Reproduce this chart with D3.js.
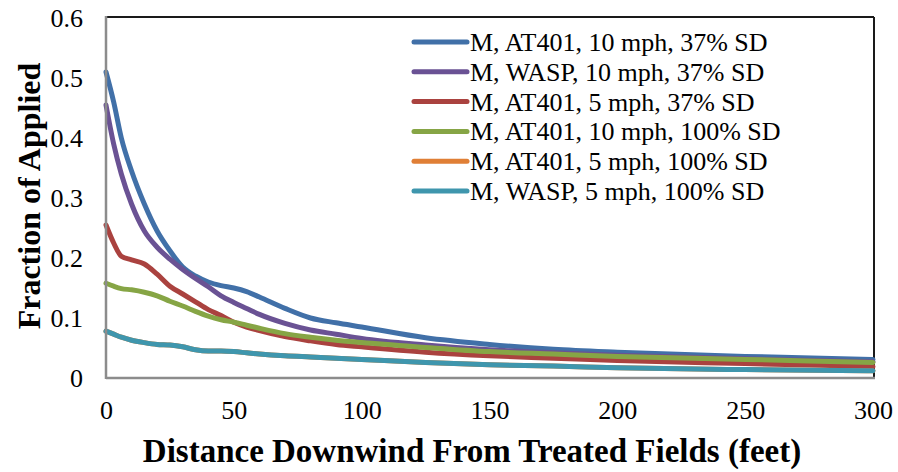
<!DOCTYPE html>
<html>
<head>
<meta charset="utf-8">
<script src="https://cdn.jsdelivr.net/npm/d3@7/dist/d3.min.js"></script>
<style>
  html, body { margin: 0; padding: 0; background: #ffffff; }
  svg { display: block; }
  text { font-family: "Liberation Serif", "Times New Roman", serif; fill: #000; }
</style>
</head>
<body>
<svg id="chart" width="898" height="472"></svg>
<script>
// Downwind distance (feet) at which each series is sampled
const distances = [0, 3, 6, 10, 15, 20, 25, 30, 35, 40, 45, 50, 55, 60, 70, 80, 90, 100, 125, 150, 175, 200, 250, 300];

const seriesNames = [
  "M, AT401, 10 mph, 37% SD",
  "M, WASP, 10 mph, 37% SD",
  "M, AT401, 5 mph, 37% SD",
  "M, AT401, 10 mph, 100% SD",
  "M, AT401, 5 mph, 100% SD",
  "M, WASP, 5 mph, 100% SD"
];

const at401_10_37 = [0.51, 0.46, 0.40, 0.345, 0.29, 0.245, 0.212, 0.185, 0.170, 0.160, 0.154, 0.150, 0.144, 0.135, 0.116, 0.100, 0.092, 0.085, 0.067, 0.056, 0.048, 0.043, 0.036, 0.031];
const wasp_10_37  = [0.455, 0.39, 0.34, 0.29, 0.245, 0.218, 0.198, 0.181, 0.166, 0.152, 0.137, 0.126, 0.116, 0.106, 0.091, 0.080, 0.073, 0.066, 0.055, 0.047, 0.042, 0.038, 0.032, 0.027];
const at401_5_37  = [0.255, 0.225, 0.203, 0.197, 0.19, 0.173, 0.153, 0.14, 0.127, 0.114, 0.104, 0.093, 0.085, 0.079, 0.069, 0.062, 0.056, 0.052, 0.043, 0.037, 0.033, 0.029, 0.024, 0.019];
const at401_10_100 = [0.158, 0.153, 0.149, 0.147, 0.143, 0.137, 0.128, 0.12, 0.111, 0.103, 0.097, 0.093, 0.088, 0.083, 0.074, 0.068, 0.063, 0.059, 0.051, 0.044, 0.040, 0.036, 0.031, 0.026];
const at401_5_100 = [0.078, 0.073, 0.068, 0.063, 0.059, 0.056, 0.055, 0.052, 0.047, 0.045, 0.045, 0.044, 0.042, 0.040, 0.037, 0.035, 0.033, 0.031, 0.026, 0.022, 0.020, 0.017, 0.014, 0.012];
const wasp_5_100  = [0.078, 0.073, 0.068, 0.063, 0.059, 0.056, 0.055, 0.052, 0.047, 0.045, 0.045, 0.044, 0.042, 0.040, 0.037, 0.035, 0.033, 0.031, 0.026, 0.022, 0.020, 0.017, 0.014, 0.012];

const seriesValues = [at401_10_37, wasp_10_37, at401_5_37, at401_10_100, at401_5_100, wasp_5_100];
const seriesColors = ["#4170a8", "#6a5294", "#aa423f", "#86a545", "#e07f36", "#3f96ad"];

const xTicks = [0, 50, 100, 150, 200, 250, 300];
const yTicks = [0, 0.1, 0.2, 0.3, 0.4, 0.5, 0.6];
const xTitle = "Distance Downwind From Treated Fields (feet)";
const yTitle = "Fraction of Applied";

const svg = d3.select("#chart");
const plot = { left: 106, right: 873, top: 18, bottom: 378 };

const x = d3.scaleLinear().domain([0, 300]).range([plot.left, plot.right]);
const y = d3.scaleLinear().domain([0, 0.6]).range([plot.bottom, plot.top]);

// Plot area border: dark top/right edges, grey axis lines
svg.append("line").attr("x1", plot.left).attr("x2", plot.right + 1)
  .attr("y1", plot.top - 1).attr("y2", plot.top - 1)
  .attr("stroke", "#1a1a1a").attr("stroke-width", 2);
svg.append("line").attr("x1", plot.right + 1).attr("x2", plot.right + 1)
  .attr("y1", plot.top - 1).attr("y2", plot.bottom)
  .attr("stroke", "#1a1a1a").attr("stroke-width", 2);

// Axes (labels only, no tick marks)
const xAxis = d3.axisBottom(x).tickValues(xTicks).tickSize(0).tickPadding(23).tickFormat(d3.format("d"));
const yAxis = d3.axisLeft(y).tickValues(yTicks).tickSize(0).tickPadding(23)
  .tickFormat(d => d === 0 ? "0" : d3.format(".1f")(d));

const gx = svg.append("g").attr("transform", `translate(0,${plot.bottom})`).call(xAxis);
const gy = svg.append("g").attr("transform", `translate(${plot.left},0)`).call(yAxis);
[gx, gy].forEach(g => {
  g.select(".domain").remove();
  g.selectAll("text").style("font-family", "'Liberation Serif', serif").style("font-size", "26px").attr("fill", "#000");
});

// Lines
const line = d3.line().x((d, i) => x(distances[i])).y(d => y(d)).curve(d3.curveMonotoneX);
seriesValues.forEach((vals, k) => {
  svg.append("path").datum(vals)
    .attr("d", line)
    .attr("fill", "none")
    .attr("stroke", seriesColors[k])
    .attr("stroke-width", 5)
    .attr("stroke-linecap", "round")
    .attr("stroke-linejoin", "round");
});

// Grey axis lines drawn over line ends
svg.append("line").attr("x1", plot.left).attr("x2", plot.left)
  .attr("y1", plot.top - 2).attr("y2", plot.bottom + 1)
  .attr("stroke", "#8c8c8c").attr("stroke-width", 2.5);
svg.append("line").attr("x1", plot.left).attr("x2", plot.right + 2)
  .attr("y1", plot.bottom).attr("y2", plot.bottom)
  .attr("stroke", "#8c8c8c").attr("stroke-width", 2.5);

// Legend
const legend = svg.append("g");
seriesNames.forEach((name, k) => {
  const ly = 42 + k * 29.8;
  legend.append("line").attr("x1", 414).attr("x2", 467).attr("y1", ly).attr("y2", ly)
    .attr("stroke", seriesColors[k]).attr("stroke-width", 5).attr("stroke-linecap", "round");
  legend.append("text").attr("x", 470).attr("y", ly + 9)
    .style("font-size", "26px").text(name);
});

// Axis titles
svg.append("text")
  .attr("x", 472).attr("y", 462)
  .attr("text-anchor", "middle")
  .style("font-size", "33px").style("font-weight", "bold")
  .text(xTitle);

svg.append("text")
  .attr("transform", `translate(40,196) rotate(-90)`)
  .attr("text-anchor", "middle")
  .style("font-size", "32px").style("font-weight", "bold")
  .text(yTitle);
</script>
</body>
</html>
